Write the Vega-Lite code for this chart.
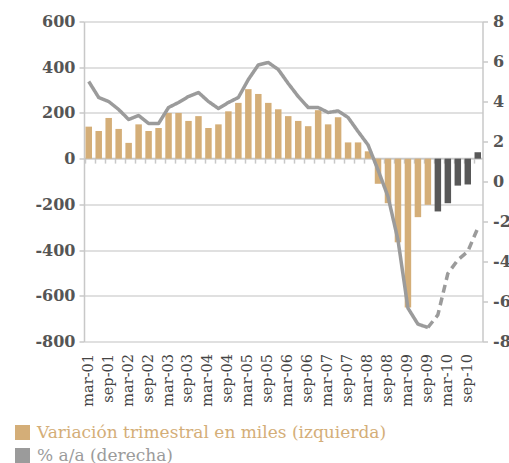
{
  "$schema": "https://vega.github.io/schema/vega-lite/v6.json",
  "width": 398.5,
  "height": 320,
  "autosize": {"type": "none"},
  "padding": {"left": 84, "top": 21.5, "right": 26.5, "bottom": 121.5},
  "config": {"view": {"stroke": null}, "font": "DejaVu Serif"},
  "datasets": {
    "barras": [
      {"trimestre": "mar-01", "variacion": 140, "serie": "Variación trimestral en miles (izquierda)"},
      {"trimestre": "jun-01", "variacion": 121, "serie": "Variación trimestral en miles (izquierda)"},
      {"trimestre": "sep-01", "variacion": 178, "serie": "Variación trimestral en miles (izquierda)"},
      {"trimestre": "dic-01", "variacion": 130, "serie": "Variación trimestral en miles (izquierda)"},
      {"trimestre": "mar-02", "variacion": 69, "serie": "Variación trimestral en miles (izquierda)"},
      {"trimestre": "jun-02", "variacion": 150, "serie": "Variación trimestral en miles (izquierda)"},
      {"trimestre": "sep-02", "variacion": 121, "serie": "Variación trimestral en miles (izquierda)"},
      {"trimestre": "dic-02", "variacion": 134, "serie": "Variación trimestral en miles (izquierda)"},
      {"trimestre": "mar-03", "variacion": 200, "serie": "Variación trimestral en miles (izquierda)"},
      {"trimestre": "jun-03", "variacion": 200, "serie": "Variación trimestral en miles (izquierda)"},
      {"trimestre": "sep-03", "variacion": 165, "serie": "Variación trimestral en miles (izquierda)"},
      {"trimestre": "dic-03", "variacion": 186, "serie": "Variación trimestral en miles (izquierda)"},
      {"trimestre": "mar-04", "variacion": 134, "serie": "Variación trimestral en miles (izquierda)"},
      {"trimestre": "jun-04", "variacion": 150, "serie": "Variación trimestral en miles (izquierda)"},
      {"trimestre": "sep-04", "variacion": 207, "serie": "Variación trimestral en miles (izquierda)"},
      {"trimestre": "dic-04", "variacion": 244, "serie": "Variación trimestral en miles (izquierda)"},
      {"trimestre": "mar-05", "variacion": 304, "serie": "Variación trimestral en miles (izquierda)"},
      {"trimestre": "jun-05", "variacion": 283, "serie": "Variación trimestral en miles (izquierda)"},
      {"trimestre": "sep-05", "variacion": 244, "serie": "Variación trimestral en miles (izquierda)"},
      {"trimestre": "dic-05", "variacion": 216, "serie": "Variación trimestral en miles (izquierda)"},
      {"trimestre": "mar-06", "variacion": 186, "serie": "Variación trimestral en miles (izquierda)"},
      {"trimestre": "jun-06", "variacion": 165, "serie": "Variación trimestral en miles (izquierda)"},
      {"trimestre": "sep-06", "variacion": 142, "serie": "Variación trimestral en miles (izquierda)"},
      {"trimestre": "dic-06", "variacion": 212, "serie": "Variación trimestral en miles (izquierda)"},
      {"trimestre": "mar-07", "variacion": 150, "serie": "Variación trimestral en miles (izquierda)"},
      {"trimestre": "jun-07", "variacion": 181, "serie": "Variación trimestral en miles (izquierda)"},
      {"trimestre": "sep-07", "variacion": 71, "serie": "Variación trimestral en miles (izquierda)"},
      {"trimestre": "dic-07", "variacion": 71, "serie": "Variación trimestral en miles (izquierda)"},
      {"trimestre": "mar-08", "variacion": 32, "serie": "Variación trimestral en miles (izquierda)"},
      {"trimestre": "jun-08", "variacion": -110, "serie": "Variación trimestral en miles (izquierda)"},
      {"trimestre": "sep-08", "variacion": -195, "serie": "Variación trimestral en miles (izquierda)"},
      {"trimestre": "dic-08", "variacion": -366, "serie": "Variación trimestral en miles (izquierda)"},
      {"trimestre": "mar-09", "variacion": -651, "serie": "Variación trimestral en miles (izquierda)"},
      {"trimestre": "jun-09", "variacion": -256, "serie": "Variación trimestral en miles (izquierda)"},
      {"trimestre": "sep-09", "variacion": -202, "serie": "Variación trimestral en miles (izquierda)"},
      {"trimestre": "dic-09", "variacion": -231, "serie": "Previsión"},
      {"trimestre": "mar-10", "variacion": -195, "serie": "Previsión"},
      {"trimestre": "jun-10", "variacion": -118, "serie": "Previsión"},
      {"trimestre": "sep-10", "variacion": -113, "serie": "Previsión"},
      {"trimestre": "dic-10", "variacion": 28, "serie": "Previsión"}
    ],
    "linea": [
      {"trimestre": "mar-01", "tasa": 5.0, "tramo": "obs"},
      {"trimestre": "jun-01", "tasa": 4.2, "tramo": "obs"},
      {"trimestre": "sep-01", "tasa": 4.0, "tramo": "obs"},
      {"trimestre": "dic-01", "tasa": 3.6, "tramo": "obs"},
      {"trimestre": "mar-02", "tasa": 3.1, "tramo": "obs"},
      {"trimestre": "jun-02", "tasa": 3.3, "tramo": "obs"},
      {"trimestre": "sep-02", "tasa": 2.9, "tramo": "obs"},
      {"trimestre": "dic-02", "tasa": 2.9, "tramo": "obs"},
      {"trimestre": "mar-03", "tasa": 3.7, "tramo": "obs"},
      {"trimestre": "jun-03", "tasa": 3.95, "tramo": "obs"},
      {"trimestre": "sep-03", "tasa": 4.25, "tramo": "obs"},
      {"trimestre": "dic-03", "tasa": 4.45, "tramo": "obs"},
      {"trimestre": "mar-04", "tasa": 4.0, "tramo": "obs"},
      {"trimestre": "jun-04", "tasa": 3.65, "tramo": "obs"},
      {"trimestre": "sep-04", "tasa": 3.95, "tramo": "obs"},
      {"trimestre": "dic-04", "tasa": 4.2, "tramo": "obs"},
      {"trimestre": "mar-05", "tasa": 5.1, "tramo": "obs"},
      {"trimestre": "jun-05", "tasa": 5.83, "tramo": "obs"},
      {"trimestre": "sep-05", "tasa": 5.95, "tramo": "obs"},
      {"trimestre": "dic-05", "tasa": 5.6, "tramo": "obs"},
      {"trimestre": "mar-06", "tasa": 4.9, "tramo": "obs"},
      {"trimestre": "jun-06", "tasa": 4.25, "tramo": "obs"},
      {"trimestre": "sep-06", "tasa": 3.7, "tramo": "obs"},
      {"trimestre": "dic-06", "tasa": 3.7, "tramo": "obs"},
      {"trimestre": "mar-07", "tasa": 3.45, "tramo": "obs"},
      {"trimestre": "jun-07", "tasa": 3.53, "tramo": "obs"},
      {"trimestre": "sep-07", "tasa": 3.2, "tramo": "obs"},
      {"trimestre": "dic-07", "tasa": 2.5, "tramo": "obs"},
      {"trimestre": "mar-08", "tasa": 1.83, "tramo": "obs"},
      {"trimestre": "jun-08", "tasa": 0.58, "tramo": "obs"},
      {"trimestre": "sep-08", "tasa": -0.75, "tramo": "obs"},
      {"trimestre": "dic-08", "tasa": -2.92, "tramo": "obs"},
      {"trimestre": "mar-09", "tasa": -6.33, "tramo": "obs"},
      {"trimestre": "jun-09", "tasa": -7.13, "tramo": "obs"},
      {"trimestre": "sep-09", "tasa": -7.3, "tramo": "obs"},
      {"trimestre": "sep-09", "tasa": -7.3, "tramo": "prev"},
      {"trimestre": "dic-09", "tasa": -6.67, "tramo": "prev"},
      {"trimestre": "mar-10", "tasa": -4.6, "tramo": "prev"},
      {"trimestre": "jun-10", "tasa": -3.92, "tramo": "prev"},
      {"trimestre": "sep-10", "tasa": -3.5, "tramo": "prev"},
      {"trimestre": "dic-10", "tasa": -2.33, "tramo": "prev"}
    ]
  },
  "layer": [
    {
      "data": {"name": "barras"},
      "mark": {"type": "bar"},
      "encoding": {
        "x": {
          "field": "trimestre", "type": "ordinal", "title": null,
          "scale": {
            "domain": ["mar-01","jun-01","sep-01","dic-01","mar-02","jun-02","sep-02","dic-02","mar-03","jun-03","sep-03","dic-03","mar-04","jun-04","sep-04","dic-04","mar-05","jun-05","sep-05","dic-05","mar-06","jun-06","sep-06","dic-06","mar-07","jun-07","sep-07","dic-07","mar-08","jun-08","sep-08","dic-08","mar-09","jun-09","sep-09","dic-09","mar-10","jun-10","sep-10","dic-10"],
            "paddingInner": 0.35, "paddingOuter": 0.15
          },
          "axis": {
            "orient": "bottom",
            "values": ["mar-01","sep-01","mar-02","sep-02","mar-03","sep-03","mar-04","sep-04","mar-05","sep-05","mar-06","sep-06","mar-07","sep-07","mar-08","sep-08","mar-09","sep-09","mar-10","sep-10"],
            "labelAngle": -90, "labelAlign": "right", "labelBaseline": "middle",
            "labelFont": "DejaVu Serif", "labelFontSize": 14.5, "labelColor": "#444444",
            "labelPadding": 12, "ticks": false, "domain": false, "grid": false
          }
        },
        "y": {
          "field": "variacion", "type": "quantitative", "title": null,
          "scale": {"domain": [-800, 600], "nice": false},
          "axis": {
            "values": [-800, -600, -400, -200, 0, 200, 400, 600],
            "labelExpr": "'' + datum.value",
            "labelFont": "DejaVu Serif", "labelFontSize": 16, "labelFontWeight": "bold",
            "labelColor": "#555555", "labelPadding": 4, "tickSize": 5,
            "tickColor": "#c8c8c8", "tickWidth": 1.5,
            "domainColor": "#c8c8c8", "domainWidth": 1.5,
            "grid": true, "gridColor": "#d6d6d6", "gridWidth": 1.5
          }
        },
        "color": {
          "field": "serie", "type": "nominal",
          "scale": {
            "domain": ["Variación trimestral en miles (izquierda)", "% a/a (derecha)", "Previsión"],
            "range": ["#D4AE78", "#9B9B9B", "#585858"]
          },
          "legend": {
            "values": ["Variación trimestral en miles (izquierda)", "% a/a (derecha)"],
            "title": null, "orient": "none", "legendX": -70, "legendY": 402.5,
            "direction": "vertical",
            "symbolType": "square", "symbolSize": 225, "symbolStrokeWidth": 0,
            "labelFont": "DejaVu Serif", "labelFontSize": 17, "labelOffset": 6,
            "labelLimit": 500, "rowPadding": 5,
            "encode": {
              "labels": {"update": {"fill": {"signal": "datum.value === '% a/a (derecha)' ? '#9B9B9B' : '#D4AE78'"}}}
            }
          }
        }
      }
    },
    {
      "data": {"name": "linea"},
      "mark": {"type": "line", "strokeWidth": 3.5, "color": "#9B9B9B", "strokeJoin": "round"},
      "encoding": {
        "x": {
          "field": "trimestre", "type": "ordinal", "title": null,
          "axis": {
            "orient": "top",
            "labels": false, "ticks": true, "bandPosition": 0, "tickSize": -5,
            "tickColor": "#c8c8c8", "tickWidth": 1.5, "domainColor": "#c8c8c8", "domainWidth": 1.5,
            "offset": -136.6, "grid": false
          }
        },
        "y": {
          "field": "tasa", "type": "quantitative", "title": null,
          "scale": {"domain": [-8, 8], "nice": false},
          "axis": {
            "orient": "right", "values": [-8, -6, -4, -2, 0, 2, 4, 6, 8],
            "labelExpr": "'' + datum.value",
            "labelFont": "DejaVu Serif", "labelFontSize": 16, "labelFontWeight": "bold",
            "labelColor": "#555555", "labelPadding": 5, "tickSize": 5,
            "tickColor": "#c8c8c8", "tickWidth": 1.5,
            "domainColor": "#c8c8c8", "domainWidth": 1.5, "grid": false
          }
        },
        "strokeDash": {
          "field": "tramo", "type": "nominal",
          "scale": {"domain": ["obs", "prev"], "range": [[1, 0], [8, 5]]},
          "legend": null
        }
      }
    }
  ],
  "resolve": {"scale": {"y": "independent"}}
}
